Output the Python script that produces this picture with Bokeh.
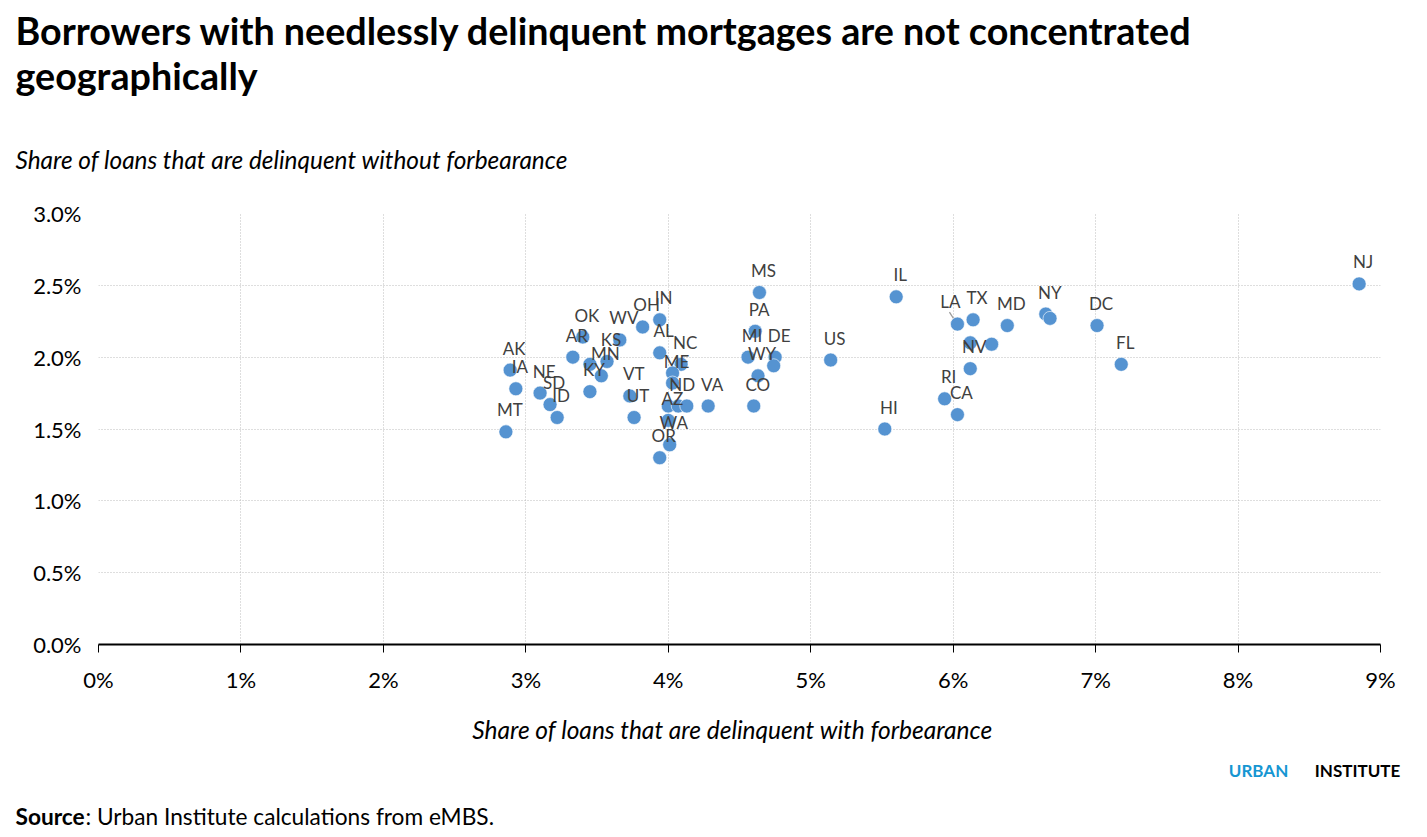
from bokeh.plotting import figure
from bokeh.models import ColumnDataSource, FixedTicker, Range1d, PrintfTickFormatter
from bokeh.core.properties import value
from bokeh.embed import file_html
from bokeh.resources import INLINE

# ---------------- data ----------------
states = ["NJ", "IL", "MS", "NY", "CT", "DC", "MD", "TX", "LA", "GA", "MA", "NV", "RI", "CA",
          "FL", "HI", "US", "PA", "MI", "DE", "SC", "WY", "CO", "IN", "OH", "AL", "NC", "TN",
          "ME", "NH", "ND", "WI", "AZ", "WA", "OR", "VA", "VT", "UT", "WV", "KS", "MO", "MN",
          "KY", "AR", "OK", "AK", "IA", "NE", "SD", "ID", "MT"]
with_forbearance = [8.85, 5.60, 4.64, 6.65, 6.68, 7.01, 6.38, 6.14, 6.03, 6.12, 6.27, 6.12, 5.94, 6.03,
                    7.18, 5.52, 5.14, 4.61, 4.56, 4.75, 4.74, 4.63, 4.60, 3.94, 3.82, 3.94, 4.09, 4.03,
                    4.03, 4.00, 4.07, 4.13, 4.00, 4.01, 3.94, 4.28, 3.73, 3.76, 3.66, 3.57, 3.45, 3.53,
                    3.45, 3.33, 3.40, 2.89, 2.93, 3.10, 3.17, 3.22, 2.86]
without_forbearance = [2.51, 2.42, 2.45, 2.30, 2.27, 2.22, 2.22, 2.26, 2.23, 2.10, 2.09, 1.92, 1.71, 1.60,
                       1.95, 1.50, 1.98, 2.18, 2.00, 2.00, 1.94, 1.87, 1.66, 2.26, 2.21, 2.03, 1.95, 1.89,
                       1.82, 1.66, 1.66, 1.66, 1.56, 1.39, 1.30, 1.66, 1.73, 1.58, 2.12, 1.97, 1.95, 1.87,
                       1.76, 2.00, 2.14, 1.91, 1.78, 1.75, 1.67, 1.58, 1.48]
unlabeled = ["CT", "GA", "MA", "SC", "TN", "NH", "WI", "MO"]

x_ticks = [0, 1, 2, 3, 4, 5, 6, 7, 8, 9]
y_ticks = [0.0, 0.5, 1.0, 1.5, 2.0, 2.5, 3.0]

title_lines = ["Borrowers with needlessly delinquent mortgages are not concentrated",
               "geographically"]
y_caption = "Share of loans that are delinquent without forbearance"
x_caption = "Share of loans that are delinquent with forbearance"
source_head = "Source"
source_text = ": Urban Institute calculations from eMBS."
brand = ["URBAN", "INSTITUTE"]

# ---------------- layout ----------------
W, H = 1419, 837
FRAME_L, FRAME_T, FRAME_R, FRAME_B = 98, 213, 1380, 644
BL, BR, BT, BB = FRAME_L, W - FRAME_R, FRAME_T, H - FRAME_B
PX_X = (FRAME_R - FRAME_L) / (x_ticks[-1] - x_ticks[0])
PX_Y = (FRAME_B - FRAME_T) / (y_ticks[-1] - y_ticks[0])
BASE_SHIFT = 7  # correction for where the text baseline lands

DOT = "#5593d1"
LABEL_COL = "#404040"
FONT = "Lato"

p = figure(width=W, height=H, output_backend="svg", toolbar_location=None,
           x_range=Range1d(0, 9), y_range=Range1d(0, 3),
           min_border_left=BL, min_border_right=BR, min_border_top=BT, min_border_bottom=BB)
p.title.visible = False
p.outline_line_color = None

p.xaxis.ticker = FixedTicker(ticks=x_ticks)
p.yaxis.ticker = FixedTicker(ticks=y_ticks)
p.xaxis.formatter = PrintfTickFormatter(format="%d%%")
p.yaxis.formatter = PrintfTickFormatter(format="%.1f%%")
for ax in (p.xaxis, p.yaxis):
    ax.major_label_text_font = FONT
    ax.major_label_text_font_size = "22px"
    ax.major_label_text_color = "#000000"
    ax.minor_tick_line_color = None
p.xaxis.axis_line_color = "#000000"
p.xaxis.axis_line_width = 2
p.xaxis.major_tick_line_color = "#000000"
p.xaxis.major_tick_line_width = 1
p.xaxis.major_tick_in = 0
p.xaxis.major_tick_out = 8
p.xaxis.major_label_standoff = 13
p.yaxis.axis_line_color = None
p.yaxis.major_tick_line_color = None
p.yaxis.major_label_standoff = 11

for g in (p.xgrid, p.ygrid):
    g.grid_line_color = "#bdbdbd"
    g.grid_line_dash = "1 2"
    g.grid_line_width = 1

src = ColumnDataSource(dict(
    x=with_forbearance, y=without_forbearance, st=states,
    lab=[("" if (s in unlabeled or s == "LA") else s) for s in states]))

# LA label moved left with a leader line
i_la = states.index("LA")
xl, yl = with_forbearance[i_la], without_forbearance[i_la]
p.segment(x0=[xl - 8 / PX_X], y0=[yl + 12 / PX_Y], x1=[xl - 1 / PX_X], y1=[yl + 1 / PX_Y],
          line_color="#9a9a9a", line_width=1.2)

p.scatter("x", "y", source=src, size=14, fill_color=DOT, line_color="white", line_width=0.6)

p.text("x", "y", text="lab", source=src, x_offset=4, y_offset=-22,
       text_align="center", text_baseline="middle", text_font=value(FONT),
       text_font_size="17px", text_color=LABEL_COL)
p.text([xl], [yl], text=["LA"], x_offset=-7, y_offset=-23,
       text_align="center", text_baseline="middle", text_font=value(FONT),
       text_font_size="17px", text_color=LABEL_COL)


# titles, captions and notes: text glyphs at overlay level (not clipped to the frame),
# positioned through the plot's own scales from page-pixel anchors
def page_text(txt, px, py, size, style="normal", color="#000000", align="left"):
    py = py - BASE_SHIFT
    r = p.text([(px - FRAME_L) / PX_X], [(FRAME_B - py) / PX_Y], text=[txt],
               text_font=value(FONT), text_font_size=size, text_font_style=style,
               text_color=color, text_align=align, text_baseline="alphabetic")
    r.level = "overlay"


page_text(title_lines[0], 15, 37, "37.7px", "bold")
page_text(title_lines[1], 15, 82, "37.7px", "bold")
page_text(y_caption, 15, 166, "24.4px", "italic")
page_text(x_caption, 732, 736, "24.5px", "italic", align="center")
page_text(brand[0], 1258, 777, "17px", "bold", color="#1696d2", align="center")
page_text(brand[1], 1357, 777, "17px", "bold", align="center")
page_text(source_head, 15, 823, "22.7px", "bold")
page_text(source_text, 85, 823, "22.7px")

open("out.html", "w").write(file_html(p, INLINE))
